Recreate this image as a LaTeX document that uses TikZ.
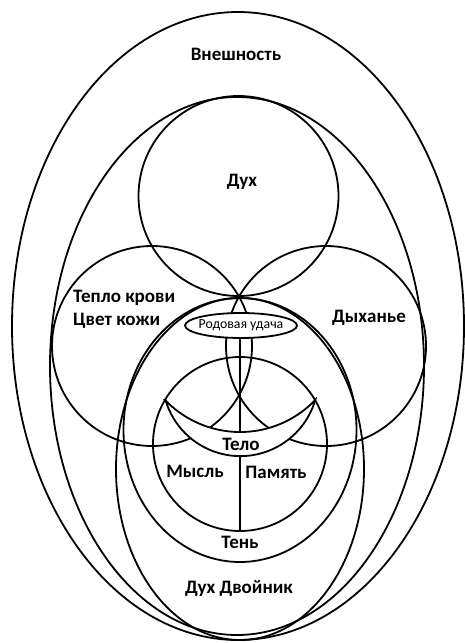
\documentclass[tikz,border=0pt]{standalone}
\usepackage{fontspec}
\setmainfont{Carlito}
\begin{document}
\begin{tikzpicture}[x=1pt,y=1pt,
  ring/.style={draw=black, line width=1.8pt},
  lbl/.style={font=\bfseries\fontsize{19}{22}\selectfont, inner sep=0pt},
  small/.style={font=\fontsize{13.8}{15}\selectfont, inner sep=0pt}]
\useasboundingbox (0,0) rectangle (465,-643);
\fill[white] (0,0) rectangle (465,-643);
% outer shapes
\draw[ring] (238,-326) ellipse [x radius=226, y radius=314];
\draw[ring] (237,-366) ellipse [x radius=187, y radius=269];
% spirit circle
\draw[ring] (238.5,-196) circle [radius=100];
% left and right circles
\draw[ring] (152,-346) circle [radius=100];
\draw[ring] (326,-346) circle [radius=100];
% shadow ellipse and double ellipse
\draw[ring] (240,-430) ellipse [x radius=116.5, y radius=132];
\draw[ring] (240,-469) ellipse [x radius=124, y radius=171];
% inner circle
\draw[ring] (240,-444) circle [radius=87];
% vertical line
\coordinate (vtop) at (240,-338);
\coordinate (vbot) at (240,-531);
\draw[ring] (vtop) -- (vbot);
% crescent (body)
\draw[ring, fill=white] (165.1,-400) arc[start angle=223.8, end angle=316.2, radius=104]
  arc[start angle=-16.3, end angle=-163.7, radius=78] -- cycle;
% kin luck ellipse
\draw[ring, fill=white] (241,-325.5) ellipse [x radius=56, y radius=12.5];
% labels
\node[lbl] (vneshn) at (236,-54) {Внешность};
\node[lbl] (dukh) at (242,-182) {Дух};
\node[lbl, anchor=west] (teplo) at (73,-298) {Тепло крови};
\node[lbl, anchor=west] (tsvet) at (73,-321) {Цвет кожи};
\node[lbl] (dykh) at (369,-318) {Дыханье};
\node[small] (rod) at (241,-325.5) {Родовая удача};
\node[lbl] (telo) at (241,-444) {Тело};
\node[lbl] (mysl) at (195,-471) {Мысль};
\node[lbl] (pamyat) at (276,-472) {Память};
\node[lbl] (ten) at (240,-542) {Тень};
\node[lbl] (dvoin) at (239,-589) {Дух Двойник};
\end{tikzpicture}
\end{document}
